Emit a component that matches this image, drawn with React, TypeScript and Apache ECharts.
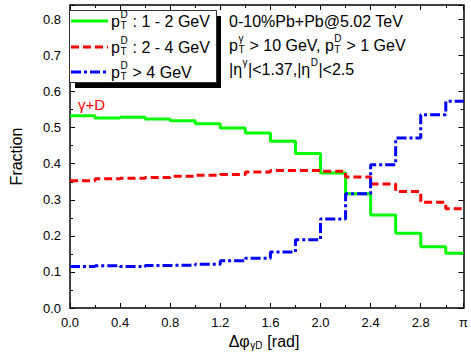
import React, { useEffect, useRef } from "react";
import * as echarts from "echarts";

// ---- data ----
const binEdges = [0, 0.2, 0.4, 0.6, 0.8, 1.0, 1.2, 1.4, 1.6, 1.8, 2.0, 2.2, 2.4, 2.6, 2.8, 3.0, Math.PI];
const pt1to2 = [0.533, 0.527, 0.529, 0.524, 0.519, 0.511, 0.499, 0.485, 0.462, 0.428, 0.374, 0.317, 0.258, 0.207, 0.170, 0.152];
const pt2to4 = [0.353, 0.358, 0.360, 0.362, 0.365, 0.368, 0.370, 0.377, 0.381, 0.381, 0.379, 0.363, 0.344, 0.323, 0.293, 0.275];
const ptAbove4 = [0.115, 0.117, 0.115, 0.118, 0.119, 0.121, 0.131, 0.138, 0.155, 0.189, 0.247, 0.317, 0.397, 0.471, 0.536, 0.573];
const seriesNames = ["pT^D : 1 - 2 GeV", "pT^D : 2 - 4 GeV", "pT^D > 4 GeV"];
const seriesColors = ["#00ff00", "#ff0000", "#0000ff"];

const FONT = "'Liberation Sans', Arial, Helvetica, sans-serif";

let mctx: CanvasRenderingContext2D | null = null;
function tw(t: string, fs: number): number {
  if (!mctx) mctx = document.createElement("canvas").getContext("2d");
  if (!mctx) return t.length * fs * 0.55;
  mctx.font = `${fs}px 'Liberation Sans', Arial, sans-serif`;
  return mctx.measureText(t).width;
}

type Tok = { t?: string; sup?: string; sub?: string };

function txt(x: number, y: number, text: string, fs: number, color: string) {
  return {
    type: "text",
    x,
    y,
    silent: true,
    z: 100,
    style: {
      text,
      fontSize: fs,
      fontFamily: FONT,
      fill: color,
      align: "left",
      verticalAlign: "middle",
      textAlign: "left",
      textVerticalAlign: "middle",
    },
  };
}

function mathText(x0: number, y: number, toks: Tok[], fs: number, color: string, center = false) {
  const sfs = Math.round(fs * 0.6);
  const widths = toks.map((k) =>
    k.t !== undefined
      ? tw(k.t, fs)
      : Math.max(k.sup ? tw(k.sup, sfs) : 0, k.sub ? tw(k.sub, sfs) : 0) + 1
  );
  const total = widths.reduce((a, b) => a + b, 0);
  let x = center ? x0 - total / 2 : x0;
  const els: any[] = [];
  toks.forEach((k, i) => {
    if (k.t !== undefined) {
      const lead = k.t.length - k.t.trimStart().length;
      const off = lead ? tw(" ".repeat(lead), fs) : 0;
      els.push(txt(x + off, y, k.t.trim(), fs, color));
    } else {
      if (k.sup) els.push(txt(x + 0.5, y - fs * 0.38, k.sup, sfs, color));
      if (k.sub) els.push(txt(x + 0.5, y + fs * 0.25, k.sub, sfs, color));
    }
    x += widths[i];
  });
  return els;
}

function stepData(vals: number[]) {
  const d = vals.map((v, i) => [binEdges[i], v]);
  d.push([binEdges[binEdges.length - 1], vals[vals.length - 1]]);
  return d;
}

export default function App() {
  const ref = useRef<HTMLDivElement>(null);
  useEffect(() => {
    if (!ref.current) return;
    const chart = echarts.init(ref.current, undefined, { renderer: "svg" });

    const axisLine = { show: true, onZero: false, lineStyle: { color: "#000", width: 1.5 } };
    const xCommon = {
      type: "value",
      min: 0,
      max: Math.PI,
      interval: 0.4,
      splitLine: { show: false },
      axisLine,
      axisTick: { inside: true, length: 5, lineStyle: { color: "#000", width: 1 } },
      minorTick: { show: true, splitNumber: 2, length: 3, lineStyle: { color: "#000", width: 1 } },
    };
    const yCommon = {
      type: "value",
      min: 0,
      max: 0.84,
      interval: 0.1,
      splitLine: { show: false },
      axisLine,
      axisTick: { inside: true, length: 5, lineStyle: { color: "#000", width: 1 } },
      minorTick: { show: true, splitNumber: 2, length: 3, lineStyle: { color: "#000", width: 1 } },
    };

    const legendRows: Tok[][] = [
      [{ t: "p" }, { sup: "D", sub: "T" }, { t: " : 1 - 2 GeV" }],
      [{ t: "p" }, { sup: "D", sub: "T" }, { t: " : 2 - 4 GeV" }],
      [{ t: "p" }, { sup: "D", sub: "T" }, { t: " > 4 GeV" }],
    ];
    const legendY = [21, 47, 72];
    const legendDash: (number[] | null)[] = [null, [8, 4], [10, 3, 3, 3]];

    const graphics: any[] = [
      // legend shadow & box
      { type: "rect", z: 90, shape: { x: 75, y: 16, width: 146, height: 72 }, style: { fill: "#000" } },
      { type: "rect", z: 91, shape: { x: 69.5, y: 10.5, width: 147, height: 72 }, style: { fill: "#fff", stroke: "#333", lineWidth: 1 } },
    ];
    legendRows.forEach((row, i) => {
      graphics.push({
        type: "line",
        z: 95,
        shape: { x1: 71, y1: legendY[i], x2: 108, y2: legendY[i] },
        style: { stroke: seriesColors[i], lineWidth: 3, lineDash: legendDash[i] || undefined },
      });
      graphics.push(...mathText(111, legendY[i], row, 16, "#000"));
    });
    graphics.push(...mathText(229, 21, [{ t: "0-10%Pb+Pb@5.02 TeV" }], 16, "#000"));
    graphics.push(
      ...mathText(
        229,
        45,
        [{ t: "p" }, { sup: "γ", sub: "T" }, { t: " > 10 GeV, p" }, { sup: "D", sub: "T" }, { t: " > 1 GeV" }],
        16,
        "#000"
      )
    );
    graphics.push(
      ...mathText(229, 69, [{ t: "|η" }, { sup: "γ" }, { t: "|<1.37,|η" }, { sup: "D" }, { t: "|<2.5" }], 16, "#000")
    );
    graphics.push(...mathText(78, 104, [{ t: "γ+D" }], 15, "#ff0000"));
    graphics.push(...mathText(264, 341, [{ t: "Δφ" }, { sub: "γD" }, { t: " [rad]" }], 16, "#000", true));

    const allVals = [pt1to2, pt2to4, ptAbove4];
    const dashes: any[] = ["solid", [8, 4], [10, 3, 3, 3]];

    chart.setOption({
      animation: false,
      backgroundColor: "#fff",
      textStyle: { fontFamily: FONT },
      grid: { left: 62, right: 5, top: 5, bottom: 52, containLabel: false },
      xAxis: [
        {
          ...xCommon,
          position: "bottom",
          axisLabel: {
            show: true,
            fontSize: 13,
            color: "#000",
            margin: 8,
            fontFamily: FONT,
            formatter: (v: number) => (v > 3.1 ? "π" : v.toFixed(1)),
          },
        },
        { ...xCommon, position: "top", axisLabel: { show: false } },
      ],
      yAxis: [
        {
          ...yCommon,
          position: "left",
          name: "Fraction",
          nameLocation: "middle",
          nameGap: 46,
          nameTextStyle: { fontSize: 16, color: "#000", fontFamily: FONT },
          axisLabel: {
            show: true,
            fontSize: 13,
            color: "#000",
            margin: 9,
            fontFamily: FONT,
            formatter: (v: number) => (v > 0.81 ? "" : v.toFixed(1)),
          },
        },
        { ...yCommon, position: "right", axisLabel: { show: false } },
      ],
      series: allVals.map((vals, i) => ({
        name: seriesNames[i],
        type: "line",
        step: "end",
        xAxisIndex: 0,
        yAxisIndex: 0,
        symbol: "none",
        data: stepData(vals),
        lineStyle: { color: seriesColors[i], width: 3, type: dashes[i] },
        z: 2 + i,
      })),
      graphic: graphics,
    });

    return () => chart.dispose();
  }, []);

  return <div ref={ref} style={{ width: 471, height: 360, position: "absolute", left: 0, top: 0 }} />;
}
